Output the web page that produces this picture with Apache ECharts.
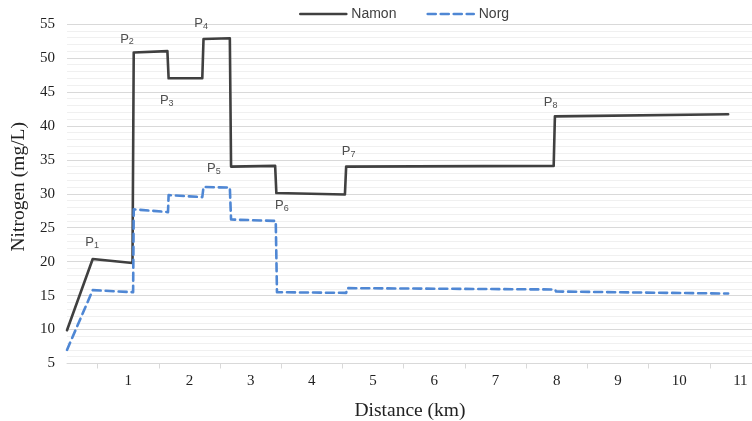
<!DOCTYPE html>
<html>
<head>
<meta charset="utf-8" />
<title>Nitrogen along distance</title>
<script src="https://cdn.jsdelivr.net/npm/echarts@6/dist/echarts.min.js"></script>
<style>
  html, body { margin: 0; padding: 0; background: #fff; }
  #chart { width: 752px; height: 421px; }
</style>
</head>
<body>
<div id="chart"></div>
<script>
// distance (km) and value pairs, steps drawn as near-vertical jumps
const namonX = [0, 0.42, 1.07, 1.09, 1.64, 1.66, 2.21, 2.23, 2.66, 2.68, 3.40, 3.42, 4.54, 4.56, 7.95, 7.97, 10.80];
const namonY = [9.9, 20.4, 19.8, 50.8, 51.0, 47.0, 47.0, 52.8, 52.9, 34.0, 34.1, 30.1, 29.9, 34.0, 34.1, 41.4, 41.7];

const norgX = [0, 0.42, 1.08, 1.09, 1.65, 1.66, 2.21, 2.23, 2.66, 2.68, 3.41, 3.43, 4.56, 4.58, 7.97, 7.99, 10.80];
const norgY = [7.0, 15.8, 15.5, 27.7, 27.3, 29.8, 29.5, 31.0, 30.9, 26.2, 26.0, 15.5, 15.4, 16.1, 15.9, 15.6, 15.3];

// point annotations P1..P8
const pointNames = ["1", "2", "3", "4", "5", "6", "7", "8"];
const pointX = [0.41, 0.98, 1.63, 2.19, 2.40, 3.51, 4.60, 7.90];
const pointY = [22.8, 52.8, 43.7, 55.1, 33.7, 28.3, 36.2, 43.4];

const yTicks = { min: 5, max: 55, step: 5 };
const xTicks = { min: 0, max: 11.5, step: 1 };

const zip = (xs, ys) => xs.map((x, i) => [x, ys[i]]);

const serif = "'Liberation Serif', 'DejaVu Serif', serif";
const sans = "'Liberation Sans', Arial, sans-serif";

const options = {
  animation: false,
  backgroundColor: "#fff",
  grid: {
    left: 67,
    right: -19,
    top: 24,
    bottom: 57.5,
    containLabel: false,
    outerBoundsMode: "none",
  },
  legend: {
    data: ["Namon", "Norg"],
    left: 294,
    top: 2,
    itemWidth: 46,
    itemHeight: 14,
    itemGap: 30,
    itemStyle: { opacity: 0 },
    lineStyle: { width: 2.6 },
    textStyle: { fontFamily: sans, fontSize: 14, color: "#404040" },
  },
  xAxis: {
    type: "value",
    min: xTicks.min,
    max: xTicks.max,
    interval: xTicks.step,
    name: "Distance (km)",
    nameLocation: "middle",
    nameGap: 37,
    nameTextStyle: { fontFamily: serif, fontSize: 19.5, color: "#222", padding: [0, 18, 0, 0] },
    axisLine: { show: true, lineStyle: { color: "#d9d9d9", width: 1 } },
    axisTick: { show: false },
    minorTick: { show: true, splitNumber: 2, length: 5, lineStyle: { color: "#d9d9d9" } },
    splitLine: { show: false },
    axisLabel: {
      fontFamily: serif,
      fontSize: 15,
      color: "#222",
      margin: 10,
      showMinLabel: true,
      formatter: (v) => (v > 0 && Number.isInteger(v) ? String(v) : ""),
    },
  },
  yAxis: {
    type: "value",
    min: yTicks.min,
    max: yTicks.max,
    interval: yTicks.step,
    name: "Nitrogen (mg/L)",
    nameLocation: "middle",
    nameGap: 38,
    nameTextStyle: { fontFamily: serif, fontSize: 19.5, color: "#222", padding: [0, 0, 0, 14] },
    axisLine: { show: false },
    axisTick: { show: false },
    splitLine: { show: true, lineStyle: { color: "#d9d9d9", width: 1 } },
    minorTick: { show: false, splitNumber: 5 },
    minorSplitLine: { show: true, lineStyle: { color: "#f0f0f0", width: 1 } },
    axisLabel: { fontFamily: serif, fontSize: 15, color: "#222", margin: 12 },
  },
  series: [
    {
      name: "Namon",
      type: "line",
      symbol: "none",
      data: zip(namonX, namonY),
      lineStyle: { color: "#404040", width: 2.6, join: "round", cap: "round" },
      itemStyle: { color: "#404040" },
      z: 3,
    },
    {
      name: "Norg",
      type: "line",
      symbol: "none",
      data: zip(norgX, norgY),
      lineStyle: { color: "#4f87d4", width: 2.6, type: [8, 5], cap: "round", join: "round" },
      itemStyle: { color: "#4f87d4" },
      z: 4,
    },
    {
      name: "points",
      type: "scatter",
      symbolSize: 0,
      clip: false,
      silent: true,
      data: zip(pointX, pointY).map((p, i) => ({ value: p, name: pointNames[i] })),
      label: {
        show: true,
        position: "inside",
        formatter: (p) => "P{s|" + p.name + "}",
        fontFamily: sans,
        fontSize: 13,
        color: "#222",
        rich: {
          s: { fontFamily: sans, fontSize: 9, color: "#222", padding: [6, 0, 0, 0] },
        },
      },
      z: 5,
    },
  ],
};

const chart = echarts.init(document.getElementById("chart"));
chart.setOption(options);
window.addEventListener("resize", () => {
  chart.resize();
});
</script>
</body>
</html>
